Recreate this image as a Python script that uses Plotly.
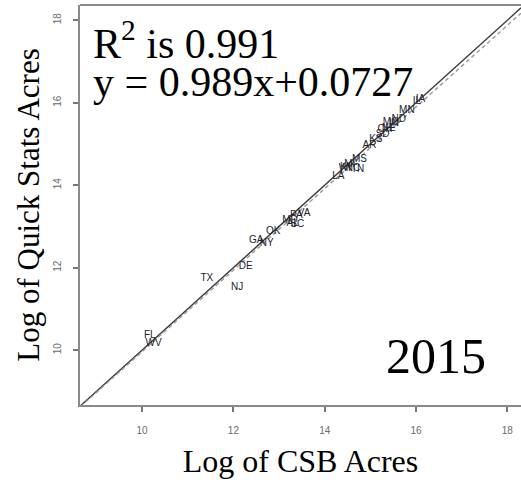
import plotly.graph_objects as go

# Natural-log soybean acres by state, 2015: CSB (x) vs Quick Stats (y)
states = ["IA", "IL", "MN", "ND", "IN", "MO", "NE", "OH", "SD", "KS",
          "AR", "MS", "TN", "NC", "MI", "KY", "WI", "LA", "VA", "PA",
          "MD", "SC", "AL", "OK", "NY", "GA", "DE", "TX", "NJ", "FL", "WV"]
log_csb = [16.10, 16.02, 15.80, 15.62, 15.52, 15.45, 15.40, 15.32, 15.27, 15.12,
           14.98, 14.76, 14.72, 14.62, 14.55, 14.48, 14.44, 14.30, 13.55, 13.38,
           13.24, 13.40, 13.30, 12.87, 12.73, 12.50, 12.27, 11.42, 12.08, 10.17, 10.25]
log_qs = [16.07, 16.03, 15.81, 15.60, 15.50, 15.53, 15.38, 15.35, 15.22, 15.10,
          14.97, 14.62, 14.38, 14.40, 14.50, 14.44, 14.41, 14.20, 13.31, 13.26,
          13.14, 13.04, 13.08, 12.87, 12.58, 12.66, 12.02, 11.74, 11.52, 10.36, 10.16]

# Fitted relation and axis setup
slope, intercept = 0.989, 0.0727
r_squared = 0.991
x_range = [8.64, 18.30]
y_range = [8.67, 18.37]
tick_vals = [10, 12, 14, 16, 18]

fig = go.Figure()

# 1:1 reference line
fig.add_trace(go.Scatter(
    x=x_range, y=x_range, mode="lines",
    line=dict(color="#3a3a3a", width=1.4),
    hoverinfo="skip", showlegend=False,
))

# Regression line
fig.add_trace(go.Scatter(
    x=x_range, y=[slope * v + intercept for v in x_range], mode="lines",
    line=dict(color="#9a9a9a", width=1.4, dash="4px,3px"),
    hoverinfo="skip", showlegend=False,
))

# State labels
fig.add_trace(go.Scatter(
    x=log_csb, y=log_qs, mode="text", text=states,
    textposition="middle center",
    textfont=dict(family="Arial", size=10, color="#22222e"),
    showlegend=False,
))

axis_common = dict(
    showline=True, linecolor="#8a8a8a", linewidth=2,
    showgrid=False, zeroline=False,
    ticks="outside", ticklen=5, tickwidth=1.5, tickcolor="#777777",
    tickvals=tick_vals,
    tickfont=dict(family="Arial", size=10, color="#6a6a6a"),
)

fig.update_xaxes(
    range=x_range, ticklabelstandoff=10,
    title=dict(text="Log of CSB Acres",
               font=dict(family="Liberation Serif", size=32, color="black"),
               standoff=15),
    **axis_common,
)
fig.update_yaxes(
    range=y_range, tickangle=-90, ticklabelstandoff=8,
    title=dict(text="Log of Quick Stats Acres",
               font=dict(family="Liberation Serif", size=31, color="black"),
               standoff=3),
    **axis_common,
)

# Top edge of the frame
fig.add_shape(type="line", xref="paper", yref="paper",
              x0=0, x1=1, y0=1, y1=1,
              line=dict(color="#8a8a8a", width=2))

serif = dict(family="Liberation Serif", color="black")
fig.add_annotation(
    xref="paper", yref="paper", x=0.025, y=0.912,
    xanchor="left", yanchor="middle", showarrow=False,
    text=f"R<sup>2</sup> is {r_squared}", font=dict(size=42, **serif),
)
fig.add_annotation(
    xref="paper", yref="paper", x=0.025, y=0.807,
    xanchor="left", yanchor="middle", showarrow=False,
    text=f"y = {slope}x+{intercept}", font=dict(size=42, **serif),
)
fig.add_annotation(
    xref="paper", yref="paper", x=0.69, y=0.122,
    xanchor="left", yanchor="middle", showarrow=False,
    text="2015", font=dict(size=50, **serif),
)

fig.update_layout(
    width=521, height=484,
    margin=dict(l=80, r=0, t=5, b=79),
    paper_bgcolor="white", plot_bgcolor="white",
)

fig.write_html("out.html")
